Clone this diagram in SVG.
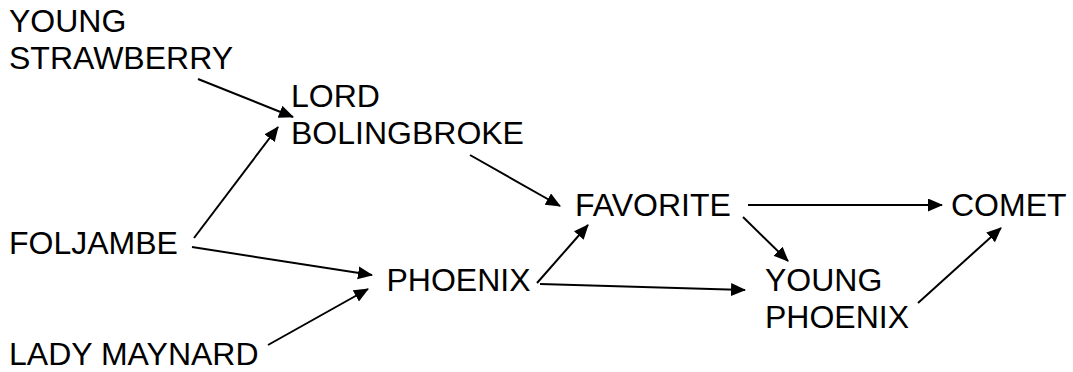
<svg xmlns="http://www.w3.org/2000/svg" width="1073" height="372" viewBox="0 0 1073 372">
<style>
  text { font-family: "Liberation Sans", Arial, sans-serif; font-size: 32px; fill: #000; }
  .edge { stroke: #000; stroke-width: 2; fill: none; marker-end: url(#arrow); }
</style>
<defs>
  <marker id="arrow" markerUnits="userSpaceOnUse" markerWidth="16" markerHeight="14" refX="14" refY="6.5" orient="auto">
    <path d="M0,0 L15,6.5 L0,13 z" fill="#000"/>
  </marker>
</defs>
<rect width="1073" height="372" fill="#fff"/>
<g id="young-strawberry"><text x="9" y="32">YOUNG</text><text x="9" y="69">STRAWBERRY</text></g>
<g id="lord-bolingbroke"><text x="291" y="106.5">LORD</text><text x="291" y="143.5">BOLINGBROKE</text></g>
<g id="foljambe"><text x="9" y="254">FOLJAMBE</text></g>
<g id="lady-maynard"><text x="9" y="365">LADY MAYNARD</text></g>
<g id="phoenix"><text x="386.5" y="290.5">PHOENIX</text></g>
<g id="favorite"><text x="575" y="216">FAVORITE</text></g>
<g id="young-phoenix"><text x="765" y="291">YOUNG</text><text x="765" y="327.5">PHOENIX</text></g>
<g id="comet"><text x="951" y="216">COMET</text></g>
<g id="connectors">
  <line class="edge" x1="198" y1="79" x2="293" y2="117"/>
  <line class="edge" x1="194" y1="238" x2="278" y2="127"/>
  <line class="edge" x1="470" y1="155" x2="560" y2="206"/>
  <line class="edge" x1="192" y1="247" x2="372" y2="275"/>
  <line class="edge" x1="268" y1="345" x2="368" y2="289"/>
  <line class="edge" x1="537" y1="283" x2="588" y2="225"/>
  <line class="edge" x1="540" y1="284" x2="745" y2="290"/>
  <line class="edge" x1="748" y1="205" x2="942" y2="205"/>
  <line class="edge" x1="743" y1="217" x2="788" y2="261"/>
  <line class="edge" x1="918" y1="303" x2="1001" y2="228"/>
</g>
</svg>
